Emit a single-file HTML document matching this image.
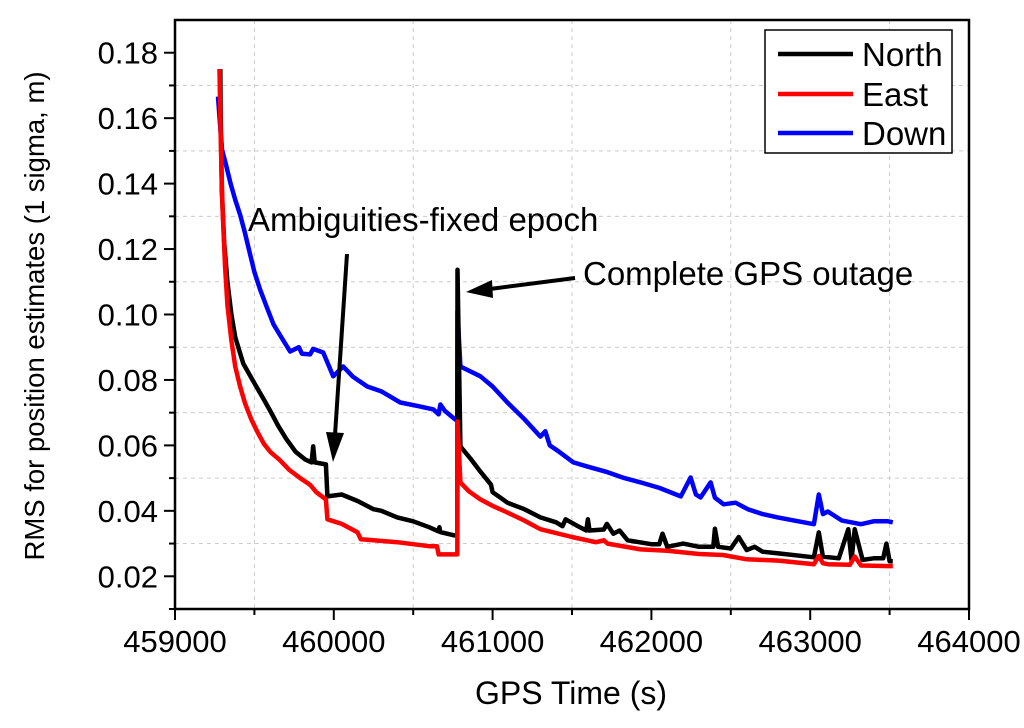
<!DOCTYPE html>
<html><head><meta charset="utf-8"><style>
body{margin:0;background:#fff}
svg text{font-family:"Liberation Sans",Arial,sans-serif;fill:#000}
</style></head><body>
<svg width="1024" height="723" viewBox="0 0 1024 723" id="chart">
<g id="grid"></g>
<g id="series"></g>
<rect x="175" y="20" width="794" height="589" fill="none" stroke="#000" stroke-width="2.5"/>
<g id="axes"></g>
<text x="44" y="316" font-size="27.5" text-anchor="middle" transform="rotate(-90 44 316)">RMS for position estimates (1 sigma, m)</text>
<text x="571" y="704" font-size="32" text-anchor="middle">GPS Time (s)</text>
<g>
<text x="248" y="231" font-size="33">Ambiguities-fixed epoch</text>
<line x1="347" y1="254" x2="335" y2="435" stroke="#000" stroke-width="4"/>
<polygon points="326,432 344,433 333,462" fill="#000"/>
</g>
<g>
<text x="583" y="285" font-size="33">Complete GPS outage</text>
<line x1="575" y1="278" x2="490" y2="289" stroke="#000" stroke-width="4"/>
<polygon points="492,280 493,298 466,292" fill="#000"/>
</g>
<g>
<rect x="765" y="30" width="187" height="123" fill="#fff" stroke="#000" stroke-width="1.5"/>
<line x1="778" y1="54" x2="853" y2="54" stroke="#000" stroke-width="4.5"/>
<text x="862" y="66" font-size="33">North</text>
<line x1="778" y1="94" x2="853" y2="94" stroke="#f00" stroke-width="4.5"/>
<text x="862" y="106" font-size="33">East</text>
<line x1="778" y1="133" x2="853" y2="133" stroke="#00f" stroke-width="4.5"/>
<text x="862" y="145" font-size="33">Down</text>
</g>
</svg>
<script>
const xTicks=[459000,460000,461000,462000,463000,464000];
const yTicks=[0.02,0.04,0.06,0.08,0.10,0.12,0.14,0.16,0.18];
const northT=[459285,459288,459295,459310,459330,459355,459380,459430,459500,459560,459600,459650,459700,459760,459820,459860,459870,459880,459950,459960,460050,460150,460250,460300,460400,460500,460600,460660,460665,460670,460760,460778,460779,460797,460860,460923,460990,461000,461050,461093,461200,461301,461400,461440,461460,461530,461590,461600,461610,461700,461720,461760,461800,461850,462000,462050,462070,462100,462200,462300,462390,462400,462420,462500,462550,462600,462650,462700,462800,463023,463054,463080,463180,463240,463260,463280,463330,463400,463460,463480,463500,463520];
const northV=[0.175,0.160,0.138,0.122,0.110,0.100,0.093,0.085,0.079,0.074,0.0705,0.066,0.062,0.058,0.0557,0.0548,0.0597,0.0548,0.0542,0.0444,0.045,0.043,0.0405,0.040,0.038,0.0368,0.035,0.0337,0.035,0.0335,0.0325,0.0325,0.1137,0.0597,0.056,0.052,0.048,0.0457,0.044,0.0425,0.0405,0.038,0.0365,0.0353,0.0374,0.0355,0.034,0.0374,0.034,0.0343,0.036,0.033,0.034,0.031,0.0298,0.0298,0.033,0.029,0.030,0.029,0.029,0.0345,0.029,0.0285,0.032,0.028,0.029,0.0275,0.027,0.0258,0.0334,0.026,0.0255,0.0344,0.025,0.0344,0.025,0.0255,0.0255,0.030,0.0246,0.0246];
const eastT=[459280,459285,459292,459300,459315,459330,459355,459380,459410,459440,459480,459520,459560,459600,459660,459720,459800,459850,459890,459950,459960,460050,460150,460170,460250,460400,460500,460600,460650,460660,460760,460778,460779,460797,460850,460923,461000,461093,461200,461301,461500,461650,461700,461724,461932,462100,462300,462450,462600,462800,463023,463054,463080,463111,463250,463280,463320,463400,463500,463520];
const eastV=[0.175,0.160,0.145,0.132,0.115,0.103,0.092,0.084,0.078,0.073,0.068,0.064,0.0605,0.058,0.0555,0.0525,0.0496,0.048,0.0457,0.0435,0.0374,0.036,0.0334,0.0313,0.031,0.0304,0.0298,0.0292,0.0292,0.0267,0.0267,0.0267,0.0673,0.0487,0.046,0.0435,0.0415,0.0395,0.037,0.0344,0.032,0.0304,0.031,0.030,0.0282,0.0278,0.0268,0.0265,0.0252,0.0248,0.0237,0.0262,0.024,0.0237,0.0235,0.026,0.0233,0.0232,0.0231,0.0231];
const downT=[459271,459285,459296,459320,459350,459380,459410,459440,459470,459500,459536,459580,459620,459670,459725,459780,459800,459851,459870,459933,459996,460059,460120,460211,460300,460419,460530,460627,460660,460671,460700,460765,460778,460779,460797,460923,461000,461093,461200,461301,461332,461360,461420,461509,461600,461724,461830,461932,462050,462185,462247,462280,462310,462373,462400,462455,462530,462607,462700,462796,462900,463023,463054,463080,463111,463200,463319,463400,463489,463520];
const downV=[0.1666,0.157,0.1504,0.146,0.140,0.135,0.1305,0.125,0.119,0.113,0.1076,0.102,0.097,0.093,0.0887,0.090,0.088,0.0878,0.0895,0.0884,0.0811,0.0841,0.081,0.078,0.0765,0.0731,0.072,0.071,0.0695,0.0725,0.0705,0.0679,0.0679,0.1009,0.0841,0.0811,0.078,0.0731,0.068,0.0627,0.0643,0.060,0.058,0.0548,0.0535,0.0518,0.050,0.0487,0.047,0.0444,0.0502,0.045,0.0441,0.0487,0.044,0.042,0.0425,0.0405,0.039,0.038,0.037,0.0359,0.045,0.039,0.0398,0.037,0.0359,0.0368,0.0368,0.0365];

const X0=175,X1=969,Y0=609,Y1=20,XMIN=459000,XMAX=464000,YMIN=0.01,YMAX=0.19;
const sx=t=>X0+(t-XMIN)/(XMAX-XMIN)*(X1-X0);
const sy=v=>Y0-(v-YMIN)/(YMAX-YMIN)*(Y0-Y1);
const NS="http://www.w3.org/2000/svg";
function mk(tag,attrs,parent){const e=document.createElementNS(NS,tag);for(const k in attrs)e.setAttribute(k,attrs[k]);parent.appendChild(e);return e;}
const grid=document.getElementById('grid'),axes=document.getElementById('axes'),series=document.getElementById('series');
for(let t=XMIN+500;t<XMAX;t+=1000){const l=mk('line',{x1:sx(t),x2:sx(t),y1:Y1,y2:Y0,stroke:'#ccc','stroke-width':1,'stroke-dasharray':'4,4'},grid);

}
for(let i=0;i<9;i++){const v=0.03+i*0.02;if(v>0.185)break;const l=mk('line',{x1:X0,x2:X1,y1:sy(v),y2:sy(v),stroke:'#ccc','stroke-width':1,'stroke-dasharray':'4,4'},grid);

}
xTicks.forEach(t=>{mk('line',{x1:sx(t),x2:sx(t),y1:Y0,y2:Y0+11,stroke:'#000','stroke-width':2},axes);
const tx=mk('text',{x:sx(t),y:652,'font-size':31,'text-anchor':'middle'},axes);tx.textContent=t;

});
for(let t=XMIN+500;t<XMAX;t+=1000)mk('line',{x1:sx(t),x2:sx(t),y1:Y0,y2:Y0+6,stroke:'#000','stroke-width':2},axes);
yTicks.forEach(v=>{mk('line',{x1:X0-11,x2:X0,y1:sy(v),y2:sy(v),stroke:'#000','stroke-width':2},axes);
const tx=mk('text',{x:158,y:sy(v)+11,'font-size':31,'text-anchor':'end'},axes);tx.textContent=v.toFixed(2);

});
for(let i=0;i<9;i++){const v=0.01+i*0.02;mk('line',{x1:X0-6,x2:X0,y1:sy(v),y2:sy(v),stroke:'#000','stroke-width':2},axes);}
function line(T,V,c,name){const p=mk('polyline',{points:T.map((t,i)=>sx(t).toFixed(1)+','+sy(V[i]).toFixed(1)).join(' '),fill:'none',stroke:c,'stroke-width':4.5,'stroke-linejoin':'round'},series);

}
line(downT,downV,'#00f','down-line');
line(northT,northV,'#000','north-line');
line(eastT,eastV,'#f00','east-line');
</script>
</body></html>
